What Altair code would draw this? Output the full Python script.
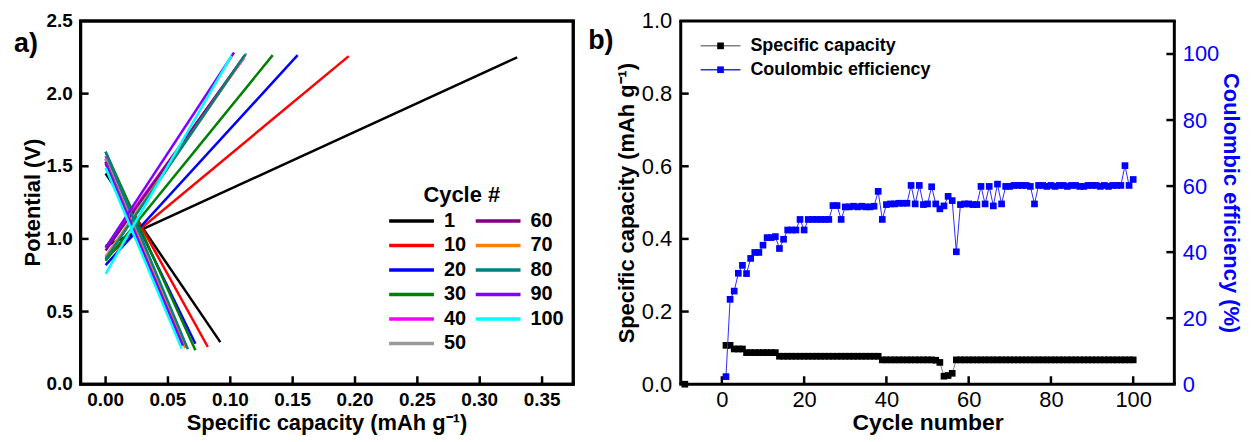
import altair as alt
import pandas as pd

FONT = "Liberation Sans"

# ---------------- Panel a data ----------------
cycle_labels = ["1", "10", "20", "30", "40", "50", "60", "70", "80", "90", "100"]
cycle_colors = ["#000000", "#FF0000", "#0000FF", "#008000", "#FF00FF", "#999999",
                "#800080", "#FF8000", "#008080", "#8000FF", "#00FFFF"]
charge_start_v = [0.95, 0.87, 0.82, 0.85, 0.94, 0.88, 0.92, 0.87, 0.86, 0.94, 0.76]
charge_end_cap = [0.330, 0.195, 0.154, 0.134, 0.111, 0.113, 0.111, 0.112, 0.112, 0.103, 0.101]
charge_end_v = [2.25, 2.258, 2.265, 2.265, 2.245, 2.277, 2.255, 2.265, 2.27, 2.283, 2.262]
discharge_start_v = [1.45, 1.53, 1.55, 1.60, 1.57, 1.55, 1.53, 1.52, 1.60, 1.52, 1.49]
discharge_end_cap = [0.092, 0.082, 0.072, 0.072, 0.062, 0.064, 0.062, 0.064, 0.066, 0.062, 0.061]
discharge_end_v = [0.29, 0.256, 0.279, 0.233, 0.267, 0.25, 0.27, 0.25, 0.24, 0.267, 0.245]

a_xticks = [0.0, 0.05, 0.10, 0.15, 0.20, 0.25, 0.30, 0.35]
a_yticks = [0.0, 0.5, 1.0, 1.5, 2.0, 2.5]
a_inner_yticks = [0.5, 1.0, 1.5, 2.0]
a_xtitle = "Specific capacity (mAh g⁻¹)"
a_ytitle = "Potential (V)"
a_legend_title = "Cycle #"

# ---------------- Panel b data ----------------
ce_cycles = list(range(1, 101))
ce_values = [
    2.3, 25.7, 28.2, 33.6, 36.0, 33.5, 38.1, 39.9, 39.9, 42.1,
    44.4, 44.4, 44.7, 41.1, 43.9, 46.7, 46.7, 46.7, 49.9, 46.7,
    49.9, 49.9, 49.9, 49.9, 49.9, 49.9, 54.1, 54.1, 49.9, 53.7,
    53.7, 53.9, 53.7, 53.9, 53.7, 53.7, 53.9, 58.4, 49.9, 54.4,
    54.6, 54.6, 54.8, 54.8, 54.8, 60.2, 54.6, 60.2, 54.4, 54.6,
    59.8, 54.6, 53.1, 54.0, 56.9, 55.6, 40.1, 54.4, 54.6, 54.6,
    54.4, 54.4, 59.9, 54.6, 59.9, 54.0, 60.6, 54.6, 59.9, 59.9,
    60.2, 60.2, 60.2, 60.2, 59.9, 54.6, 60.2, 60.2, 59.9, 60.2,
    59.9, 60.2, 60.2, 59.9, 60.2, 60.2, 59.9, 59.9, 60.2, 60.2,
    60.2, 59.9, 60.2, 59.9, 60.2, 60.2, 60.2, 66.2, 60.2, 62.0,
]
cap_cycles = list(range(1, 101))
cap_values = [
    0.107, 0.107, 0.097, 0.097, 0.097, 0.087, 0.087, 0.087, 0.087, 0.087,
    0.087, 0.087, 0.087, 0.077, 0.077, 0.077, 0.077, 0.077, 0.077, 0.077,
    0.077, 0.077, 0.077, 0.077, 0.077, 0.077, 0.077, 0.077, 0.077, 0.077,
    0.077, 0.077, 0.077, 0.077, 0.077, 0.077, 0.077, 0.077, 0.067, 0.067,
    0.067, 0.067, 0.067, 0.067, 0.067, 0.067, 0.067, 0.067, 0.067, 0.067,
    0.067, 0.066, 0.060, 0.022, 0.024, 0.030, 0.067, 0.067, 0.067, 0.067,
    0.067, 0.067, 0.067, 0.067, 0.067, 0.067, 0.067, 0.067, 0.067, 0.067,
    0.067, 0.067, 0.067, 0.067, 0.067, 0.067, 0.067, 0.067, 0.067, 0.067,
    0.067, 0.067, 0.067, 0.067, 0.067, 0.067, 0.067, 0.067, 0.067, 0.067,
    0.067, 0.067, 0.067, 0.067, 0.067, 0.067, 0.067, 0.067, 0.067, 0.067,
]
cap_extra_cycles = [-9]
cap_extra_values = [0.0]
b_xticks = [0, 20, 40, 60, 80, 100]
b_left_ticks = [0.0, 0.2, 0.4, 0.6, 0.8, 1.0]
b_left_inner = [0.2, 0.4, 0.6, 0.8]
b_right_ticks = [0, 20, 40, 60, 80, 100]
b_right_inner = [20, 40, 60, 80, 100]
b_legend_labels = ["Specific capacity", "Coulombic efficiency"]

# ---------------- sizes ----------------
WA, HA = 495, 365
WB, HB = 496, 365
GAP = 108
TICK = 8
FW = 3


def frame_rules(x0, w, h, tag):
    """Rectangle outline drawn as four rules, x0 = left edge in the host panel's pixels."""
    d = pd.DataFrame({"f": [tag]})
    top = alt.Chart(d).mark_rule(color="black", strokeWidth=FW).encode(
        x=alt.value(x0 - 1.5), x2=alt.value(x0 + w + 1.5), y=alt.value(0))
    bottom = alt.Chart(d).mark_rule(color="black", strokeWidth=FW).encode(
        x=alt.value(x0 - 1.5), x2=alt.value(x0 + w + 1.5), y=alt.value(h))
    left = alt.Chart(d).mark_rule(color="black", strokeWidth=FW).encode(
        x=alt.value(x0), y=alt.value(0), y2=alt.value(h))
    right = alt.Chart(d).mark_rule(color="black", strokeWidth=FW).encode(
        x=alt.value(x0 + w), y=alt.value(0), y2=alt.value(h))
    return [top, bottom, left, right]


def text_mark(size, **kw):
    return dict(fontSize=size, fontWeight="bold", font=FONT, color="black", **kw)


# ---------------- Panel a (axes drawn as marks) ----------------
rows = []
for i, c in enumerate(cycle_labels):
    rows.append({"cycle": c, "seg": "charge", "cap": 0.0, "v": charge_start_v[i]})
    rows.append({"cycle": c, "seg": "charge", "cap": charge_end_cap[i], "v": charge_end_v[i]})
    rows.append({"cycle": c, "seg": "discharge", "cap": 0.0, "v": discharge_start_v[i]})
    rows.append({"cycle": c, "seg": "discharge", "cap": discharge_end_cap[i], "v": discharge_end_v[i]})
df_a = pd.DataFrame(rows)

xa_scale = alt.Scale(domain=[-0.02, 0.375], nice=False, zero=False)
ya_scale = alt.Scale(domain=[0, 2.5], nice=False)

lines_a = alt.Chart(df_a).mark_line(strokeWidth=2.5).encode(
    x=alt.X("cap:Q", scale=xa_scale, axis=None),
    y=alt.Y("v:Q", scale=ya_scale, axis=None),
    color=alt.Color("cycle:N", scale=alt.Scale(domain=cycle_labels, range=cycle_colors),
                    legend=None),
    detail="seg:N",
)

xt_a = alt.Chart(pd.DataFrame({"cap": a_xticks})).mark_rule(color="black", strokeWidth=2.5).encode(
    x=alt.X("cap:Q", scale=xa_scale, axis=None), y=alt.value(HA), y2=alt.value(HA - TICK))
yt_a = alt.Chart(pd.DataFrame({"v": a_inner_yticks})).mark_rule(color="black", strokeWidth=2.5).encode(
    y=alt.Y("v:Q", scale=ya_scale, axis=None), x=alt.value(0), x2=alt.value(TICK))
xl_a = alt.Chart(pd.DataFrame({"cap": a_xticks})).mark_text(
    **text_mark(19, align="center", baseline="top")).encode(
    x=alt.X("cap:Q", scale=xa_scale, axis=None), y=alt.value(HA + 7),
    text=alt.Text("cap:Q", format=".2f"))
yl_a = alt.Chart(pd.DataFrame({"v": a_yticks})).mark_text(
    **text_mark(19, align="right", baseline="middle")).encode(
    y=alt.Y("v:Q", scale=ya_scale, axis=None), x=alt.value(-8),
    text=alt.Text("v:Q", format=".1f"))
xtitle_a = alt.Chart(pd.DataFrame({"t": [a_xtitle]})).mark_text(
    **text_mark(22, align="center", baseline="top")).encode(
    text="t:N", x=alt.value(WA / 2), y=alt.value(HA + 29))
ytitle_a = alt.Chart(pd.DataFrame({"t": [a_ytitle]})).mark_text(
    **text_mark(22, align="center", baseline="middle", angle=270)).encode(
    text="t:N", x=alt.value(-48), y=alt.value(HA / 2))
label_a = alt.Chart(pd.DataFrame({"t": ["a)"]})).mark_text(
    **text_mark(27, align="left", baseline="middle")).encode(
    text="t:N", x=alt.value(-67), y=alt.value(23))
leg_title_a = alt.Chart(pd.DataFrame({"t": [a_legend_title]})).mark_text(
    **text_mark(22, align="center", baseline="middle")).encode(
    text="t:N", x=alt.value(383), y=alt.value(175))

# legend entries (two columns, filled column by column)
leg_a = []
for i, (lab, col) in enumerate(zip(cycle_labels, cycle_colors)):
    cx = 310 + (i // 6) * 87
    cy = 201 + (i % 6) * 24.6
    d = pd.DataFrame({"t": [lab]})
    leg_a.append(alt.Chart(d).mark_rule(color=col, strokeWidth=3.5).encode(
        x=alt.value(cx), x2=alt.value(cx + 45), y=alt.value(cy)))
    leg_a.append(alt.Chart(d).mark_text(**text_mark(20, align="left", baseline="middle")).encode(
        text="t:N", x=alt.value(cx + 55), y=alt.value(cy)))

panel_a = alt.layer(lines_a, xt_a, yt_a, xl_a, yl_a, xtitle_a, ytitle_a, label_a, leg_title_a,
                    *leg_a, *frame_rules(0, WA, HA, "a")).properties(width=WA, height=HA)

# ---------------- Panel b ----------------
df_ce = pd.DataFrame({"cycle": ce_cycles, "ce": ce_values})
df_cap = pd.DataFrame({"cycle": cap_cycles, "cap": cap_values})
df_cap_pts = pd.DataFrame({"cycle": cap_extra_cycles + cap_cycles,
                           "cap": cap_extra_values + cap_values})

xb_scale = alt.Scale(domain=[-10, 110], nice=False, zero=False)
yl_scale = alt.Scale(domain=[0, 1], nice=False)
yr_scale = alt.Scale(domain=[0, 110], nice=False)

xb_axis = alt.Axis(values=b_xticks, format="d", title="Cycle number", labelFontSize=22,
                   titleFontSize=23, labelPadding=5, titlePadding=2, ticks=False, domain=False,
                   grid=False, labelFlush=False)
yl_axis = alt.Axis(values=b_left_ticks, format=".1f", title="Specific capacity (mAh g⁻¹)",
                   labelFontSize=22, titleFontSize=22, labelPadding=9, titlePadding=3,
                   ticks=False, domain=False, grid=False, labelFlush=False, orient="left")
yr_axis = alt.Axis(values=b_right_ticks, format="d", title="Coulombic efficiency (%)",
                   labelFontSize=22, titleFontSize=22, labelPadding=8, titlePadding=0,
                   ticks=False, domain=False, grid=False, labelFlush=False, orient="right",
                   labelColor="#0000FF", titleColor="#0000FF")

cap_line = alt.Chart(df_cap).mark_line(color="#808080", strokeWidth=1).encode(
    x=alt.X("cycle:Q", scale=xb_scale, axis=xb_axis),
    y=alt.Y("cap:Q", scale=yl_scale, axis=yl_axis))
cap_pts = alt.Chart(df_cap_pts).mark_point(shape="square", filled=True, size=45, color="black",
                                           opacity=1).encode(
    x=alt.X("cycle:Q", scale=xb_scale), y=alt.Y("cap:Q", scale=yl_scale))
xt_b = alt.Chart(pd.DataFrame({"cycle": b_xticks})).mark_rule(color="black", strokeWidth=2.5).encode(
    x=alt.X("cycle:Q", scale=xb_scale), y=alt.value(HB), y2=alt.value(HB - TICK))
ylt_b = alt.Chart(pd.DataFrame({"cap": b_left_inner})).mark_rule(color="black", strokeWidth=2.5).encode(
    y=alt.Y("cap:Q", scale=yl_scale), x=alt.value(0), x2=alt.value(TICK))
cap_layer = alt.layer(cap_line, cap_pts, xt_b, ylt_b)

ce_line = alt.Chart(df_ce).mark_line(color="#2A2AFF", strokeWidth=1).encode(
    x=alt.X("cycle:Q", scale=xb_scale),
    y=alt.Y("ce:Q", scale=yr_scale, axis=yr_axis))
ce_pts = alt.Chart(df_ce).mark_point(shape="square", filled=True, size=45, color="#0000FF",
                                     opacity=1).encode(
    x=alt.X("cycle:Q", scale=xb_scale), y=alt.Y("ce:Q", scale=yr_scale))
yrt_b = alt.Chart(pd.DataFrame({"ce": b_right_inner})).mark_rule(color="black", strokeWidth=2.5).encode(
    y=alt.Y("ce:Q", scale=yr_scale), x=alt.value(WB), x2=alt.value(WB - TICK))
ce_layer = alt.layer(ce_line, ce_pts, yrt_b)

leg_rows = []
leg_specs = [(b_legend_labels[0], "#808080", "black", 25), (b_legend_labels[1], "#2A2AFF", "#0000FF", 49)]
for lab, lc, pc, yy in leg_specs:
    d = pd.DataFrame({"t": [lab]})
    leg_rows.append(alt.Chart(d).mark_rule(color=lc, strokeWidth=1.5).encode(
        x=alt.value(20), x2=alt.value(60), y=alt.value(yy)))
    leg_rows.append(alt.Chart(d).mark_point(shape="square", filled=True, size=45, color=pc,
                                            opacity=1).encode(x=alt.value(40), y=alt.value(yy)))
    leg_rows.append(alt.Chart(d).mark_text(**text_mark(18, align="left", baseline="middle")).encode(
        text="t:N", x=alt.value(70), y=alt.value(yy)))

label_b = alt.Chart(pd.DataFrame({"t": ["b)"]})).mark_text(
    **text_mark(27, align="left", baseline="middle")).encode(
    text="t:N", x=alt.value(-93), y=alt.value(20))

frames = frame_rules(0, WB, HB, "b") + frame_rules(-(GAP + WA), WA, HA, "a2")

panel_b = alt.layer(cap_layer, ce_layer, *leg_rows, label_b, *frames).resolve_scale(
    y="independent").properties(width=WB, height=HB)

chart = alt.hconcat(panel_a, panel_b, spacing=GAP, bounds="flush").properties(
    padding={"left": 5, "top": 0, "right": 0, "bottom": 0}
).configure_view(strokeWidth=0).configure_axis(
    labelFont=FONT, titleFont=FONT, labelFontWeight="bold", titleFontWeight="bold",
    labelColor="black", titleColor="black", labelOverlap=False
).configure(background="white")

chart.save("out.html", embed_options={"renderer": "svg", "actions": False})
